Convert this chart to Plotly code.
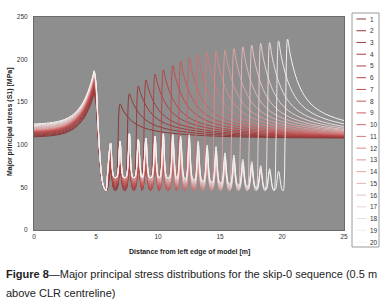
import numpy as np
import plotly.graph_objects as go

# ---------------- data ----------------
series_labels = [str(i) for i in range(1, 21)]
# x position of the face stress peak of each step [m]
face_x = [6.94, 7.69, 8.41, 9.03, 9.76, 10.43, 11.19, 11.83, 12.52, 13.24,
          13.96, 14.68, 15.40, 16.12, 16.84, 17.56, 18.28, 19.00, 19.72, 20.45]
# face peak stress [MPa]
face_peak = [148, 160, 169, 176, 183, 188, 193, 198, 202, 205,
             208, 210, 211, 213, 215, 217, 219, 220, 222, 224]
# stress at right edge of model (x = 25 m)
end_value = [108, 108.5, 109, 109.5, 110, 110.5, 111, 111.5, 112, 112.5,
             113, 114, 115, 116, 117, 118, 119.5, 121.5, 124.5, 128.5]
# stress at left edge (x = 0) and left abutment peak (x ~ 4.85 m)
left_base = [109, 110, 111, 112, 113, 114, 114.5, 115, 115.5, 116,
             116.5, 117, 117.5, 118, 119, 120, 121, 122, 123, 124]
left_peak = [160, 163, 166, 168, 170, 172, 174, 176, 178, 179,
             180, 181, 182, 183, 184, 185, 185, 186, 186, 187]
# stress spikes inside the mined-out span
spike_x = [6.18] + face_x[:-1]
spike_top = [102, 104, 113, 106, 108, 110, 113, 112, 110, 116,
             112, 111, 114, 108, 110, 107, 109, 104, 102, 100]
trough_near, trough_far = 46, 62
spike_near = 66

colors = ["#8a3636", "#923838", "#9a3b3b", "#a43e3e", "#ae4242", "#b84646",
          "#c04c4c", "#c65656", "#ca6262", "#ce6f6f", "#d27c7c", "#d68a8a",
          "#da9898", "#dea6a6", "#e2b4b4", "#e6c2c2", "#eacfcf", "#eedcdc",
          "#f2e8e8", "#f6f2f2"]


def build(i):
    xs, ys = [], []
    b, p = left_base[i], left_peak[i]
    for x in [0, 1, 2, 2.5, 3, 3.4, 3.8, 4.1, 4.4, 4.6, 4.75]:
        xs.append(x)
        ys.append(b + (p - b) * np.exp(-(4.85 - x) / 1.0))
    xs.append(4.85); ys.append(p)
    for x, fr in zip([5.0, 5.15, 5.3, 5.45, 5.6, 5.8], [0.9, 0.6, 0.32, 0.13, 0.04, 0.0]):
        xs.append(x); ys.append(trough_near + (p - trough_near) * fr)
    f = face_x[i]
    for m, s in enumerate(spike_x):
        if s > f - 0.5:
            break
        age = min(1.0, (i - m + 1) / 12)
        tr = trough_near + (trough_far - trough_near) * age
        h = spike_near + (spike_top[m] - spike_near) * age
        if s - 0.27 > xs[-1] + 0.05:
            xs.append(s - 0.27); ys.append(tr)
        xs.append(s); ys.append(h)
        xs.append(s + 0.27); ys.append(tr)
    P = face_peak[i]
    xs.append(f - 0.36); ys.append(trough_near)
    xs.append(f - 0.2); ys.append(trough_near + 0.35 * (P - trough_near))
    xs.append(f); ys.append(P)
    d_end = 25 - f
    w = 0.6 * np.exp(-d_end / 0.8) + 0.4 * np.exp(-d_end / 4)
    base = (end_value[i] - P * w) / (1 - w)
    for d in [0.2, 0.45, 0.75, 1.1, 1.6, 2.2, 3.0, 4.0, 5.2, 6.6, 8.2, 10, 12, 14.5, 17]:
        if f + d >= 24.9:
            break
        xs.append(f + d)
        ys.append(base + (P - base) * (0.6 * np.exp(-d / 0.8) + 0.4 * np.exp(-d / 4)))
    xs.append(25); ys.append(end_value[i])
    return xs, ys


fig = go.Figure()
for i in range(20):
    xs, ys = build(i)
    fig.add_trace(go.Scatter(x=xs, y=ys, mode="lines", name=series_labels[i],
                             line=dict(color=colors[i], width=1, shape="spline", smoothing=0.9),
                             showlegend=False, hoverinfo="skip"))

L, R, T, B = 34, 344, 17, 230
W, H = 390, 308


def px(x):
    return (x - L) / (R - L)


def py(y):
    return (B - y) / (B - T)


fig.update_layout(
    width=W, height=H,
    margin=dict(l=L, r=W - R, t=T, b=H - B),
    paper_bgcolor="white", plot_bgcolor="#8e8e8e",
    font=dict(family="Liberation Sans, Arial, sans-serif", size=6.5, color="#333"),
)
fig.update_xaxes(range=[0, 25], tickvals=[0, 5, 10, 15, 20, 25], showgrid=False,
                 zeroline=False, showline=True, mirror=True, linecolor="#6a6a6a",
                 linewidth=1, ticks="", tickfont=dict(size=6.5, color="#333"))
fig.update_yaxes(range=[0, 250], tickvals=[0, 50, 100, 150, 200, 250], showgrid=False,
                 zeroline=False, showline=True, mirror=True, linecolor="#6a6a6a",
                 linewidth=1, ticks="", ticklabelstandoff=4,
                 tickfont=dict(size=6.5, color="#333"))


def note(text, x, y, size, xanchor="center", angle=0, family=None, color="#222"):
    f = dict(size=size, color=color)
    if family:
        f["family"] = family
    return dict(text=text, x=px(x), y=py(y), xref="paper", yref="paper", showarrow=False,
                xanchor=xanchor, yanchor="middle", textangle=angle, font=f)


ann = [
    note("<b>Distance from left edge of model [m]</b>", 189, 252, 7),
    note("<b>Major principal stress (S1) [MPa]</b>", 10, 122, 7, angle=-90),
    note("<b>Figure 8</b>—Major principal stress distributions for the skip-0 sequence (0.5 m",
         4, 274, 11),
    note("above CLR centreline)", 4, 293, 11),
]
ann[2]["xanchor"] = "left"
ann[3]["xanchor"] = "left"

shapes = [dict(type="rect", xref="paper", yref="paper", x0=px(352), x1=px(379),
               y0=py(247), y1=py(13), line=dict(color="#9a9a9a", width=1), fillcolor="white")]
for j, lab in enumerate(series_labels):
    yy = 19 + 11.74 * j
    shapes.append(dict(type="line", xref="paper", yref="paper", x0=px(356.5), x1=px(366),
                       y0=py(yy), y1=py(yy), line=dict(color=colors[j], width=1)))
    ann.append(note(lab, 367.5, yy, 6.5, xanchor="left", color="#333"))

fig.update_layout(annotations=ann, shapes=shapes)
fig.write_html("out.html", config={"displayModeBar": False},
               post_script="document.body.style.margin='0';document.body.style.overflow='hidden';")
